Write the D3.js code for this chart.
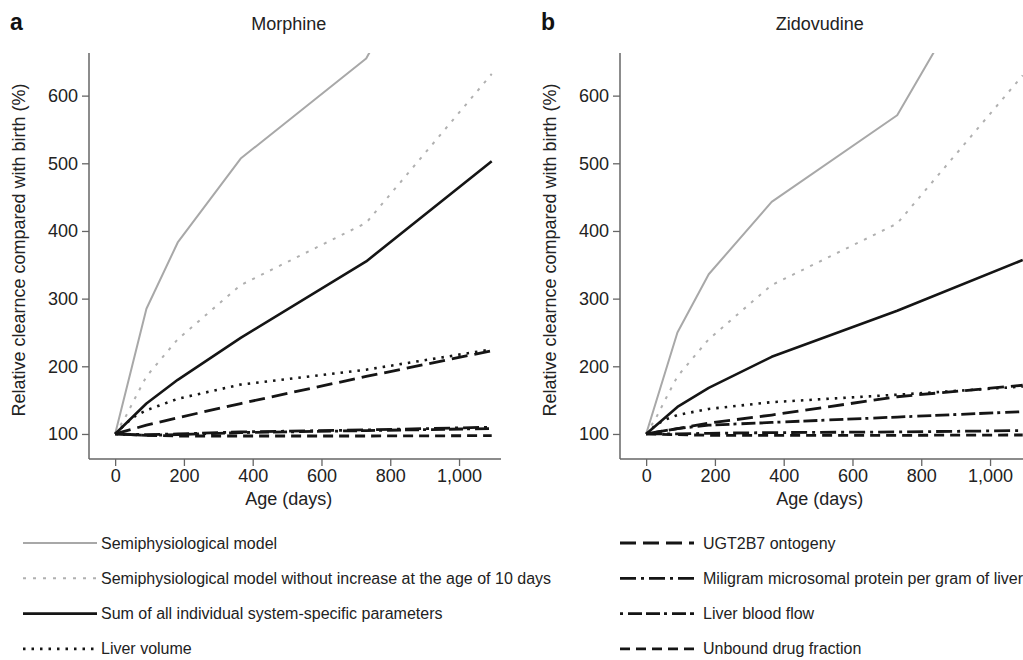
<!DOCTYPE html>
<html>
<head>
<meta charset="utf-8">
<script src="https://cdn.jsdelivr.net/npm/d3@7"></script>
<style>
body { margin: 0; background: #fff; }
svg { font-family: "Liberation Sans", Arial, Helvetica, sans-serif; }
</style>
</head>
<body>
<script>
// ages (days) at which the curves were read
const agesCoarse = [0, 91, 182, 365, 730, 1095];
const agesFine = [0, 30, 60, 91, 182, 365, 730, 1095];

const xTicks = [0, 200, 400, 600, 800, 1000];
const yTicks = [100, 200, 300, 400, 500, 600];

// Morphine
const morSemi = [100, 285, 383, 507, 655, 985];
const morSemiNo10 = [100, 125, 155, 185, 240, 320, 412, 632];
const morSum = [100, 145, 180, 242, 355, 503];
const morLiverVol = [100, 115, 127, 135, 152, 173, 195, 225];
const morUgt = [100, 113, 124, 145, 185, 223];
const morMppgl = [100, 99, 100, 103, 106, 110];
const morLbf = [100, 98, 99, 102, 105, 108];
const morFu = [100, 98, 97, 97, 97, 97.5];

// Zidovudine
const zidSemi = [100, 250, 336, 443, 571, 890];
const zidSemiNo10 = [100, 125, 155, 185, 240, 320, 411, 630];
const zidSum = [100, 140, 168, 214, 282, 357];
const zidLiverVol = [100, 114, 122, 128, 137, 147, 158, 170];
const zidUgt = [100, 108, 116, 128, 155, 172];
const zidMppgl = [100, 100, 101, 102, 103, 105];
const zidLbf = [100, 108, 113, 117, 125, 133];
const zidFu = [100, 99, 98, 98, 98, 98.5];

const legendLeft = ["Semiphysiological model",
  "Semiphysiological model without increase at the age of 10 days",
  "Sum of all individual system-specific parameters",
  "Liver volume"];
const legendRight = ["UGT2B7 ontogeny",
  "Miligram microsomal protein per gram of liver",
  "Liver blood flow",
  "Unbound drug fraction"];

const styles = {
  semi:     { color: "#a8a8a8", width: 2,   dash: null },
  semiNo10: { color: "#b0b0b0", width: 2,   dash: "3,7" },
  sum:      { color: "#151515", width: 2.6, dash: null },
  liverVol: { color: "#151515", width: 2.6, dash: "2.5,6" },
  ugt:      { color: "#151515", width: 2.8, dash: "16,7" },
  mppgl:    { color: "#151515", width: 2.8, dash: "16,5,3,5" },
  lbf:      { color: "#151515", width: 2.8, dash: "3,5,14,4,14,4" },
  fu:       { color: "#151515", width: 2.8, dash: "10,6" }
};

const panels = [
  { letter: "a", title: "Morphine", left: 89, series: [
    ["semi", agesCoarse, morSemi], ["semiNo10", agesFine, morSemiNo10],
    ["fu", agesCoarse, morFu], ["lbf", agesCoarse, morLbf], ["mppgl", agesCoarse, morMppgl],
    ["ugt", agesCoarse, morUgt], ["liverVol", agesFine, morLiverVol], ["sum", agesCoarse, morSum]] },
  { letter: "b", title: "Zidovudine", left: 620, series: [
    ["semi", agesCoarse, zidSemi], ["semiNo10", agesFine, zidSemiNo10],
    ["fu", agesCoarse, zidFu], ["lbf", agesCoarse, zidLbf], ["mppgl", agesCoarse, zidMppgl],
    ["ugt", agesCoarse, zidUgt], ["liverVol", agesFine, zidLiverVol], ["sum", agesCoarse, zidSum]] }
];

const width = 1023, height = 660;
const svg = d3.select("body").append("svg")
  .attr("width", width)
  .attr("height", height);

const plotTop = 53, plotBottom = 459, plotW = 412;

panels.forEach((p, i) => {
  const x = d3.scaleLinear().domain([-76, 1122]).range([p.left, p.left + plotW]);
  const y = d3.scaleLinear().domain([63, 663]).range([plotBottom, plotTop]);

  const clipId = "clip" + i;
  svg.append("clipPath").attr("id", clipId)
    .append("rect")
    .attr("x", p.left).attr("y", plotTop)
    .attr("width", plotW).attr("height", plotBottom - plotTop);

  // panel letter and title
  svg.append("text").attr("x", p.left - 79).attr("y", 30)
    .attr("font-size", 23).attr("font-weight", "bold").attr("fill", "#111")
    .text(p.letter);
  svg.append("text").attr("x", x(505)).attr("y", 30)
    .attr("text-anchor", "middle").attr("font-size", 18).attr("fill", "#222")
    .text(p.title);

  // axes
  const yAxis = svg.append("g").attr("transform", `translate(${p.left},0)`)
    .call(d3.axisLeft(y).tickValues(yTicks).tickSize(7).tickPadding(4).tickFormat(d3.format("d")));
  const xAxis = svg.append("g").attr("transform", `translate(0,${plotBottom})`)
    .call(d3.axisBottom(x).tickValues(xTicks).tickSize(7).tickPadding(3).tickFormat(d3.format(",")));
  [xAxis, yAxis].forEach(g => {
    g.select(".domain").attr("stroke", "#666").attr("stroke-width", 1.5);
    g.selectAll(".tick line").attr("stroke", "#666").attr("stroke-width", 1.3);
    g.selectAll(".tick text").attr("font-size", 18).attr("fill", "#222")
      .attr("font-family", "Liberation Sans, Arial, sans-serif");
  });
  yAxis.select(".domain").attr("d", `M0,${plotTop}V${plotBottom}`);
  xAxis.select(".domain").attr("d", `M${p.left},0H${p.left + plotW}`);

  svg.append("text").attr("x", x(505)).attr("y", 505)
    .attr("text-anchor", "middle").attr("font-size", 18).attr("fill", "#222")
    .text("Age (days)");
  svg.append("text")
    .attr("transform", `translate(${p.left - 64},${250}) rotate(-90)`)
    .attr("text-anchor", "middle").attr("font-size", 18).attr("fill", "#222")
    .text("Relative clearnce compared with birth (%)");

  const line = d3.line().x(d => x(d[0])).y(d => y(d[1]));
  const g = svg.append("g").attr("clip-path", `url(#${clipId})`);
  p.series.forEach(([key, ages, vals]) => {
    const s = styles[key];
    g.append("path")
      .datum(ages.map((a, k) => [a, vals[k]]))
      .attr("d", line)
      .attr("fill", "none")
      .attr("stroke", s.color)
      .attr("stroke-width", s.width)
      .attr("stroke-dasharray", s.dash)
      .attr("stroke-linejoin", "round");
  });
});

// legend
const legendKeys = [["semi", "semiNo10", "sum", "liverVol"], ["ugt", "mppgl", "lbf", "fu"]];
const legendText = [legendLeft, legendRight];
const legendX = [23, 620];
legendKeys.forEach((keys, c) => {
  keys.forEach((k, r) => {
    const s = styles[k];
    const yy = 543 + r * 35.3;
    svg.append("line")
      .attr("x1", legendX[c]).attr("x2", legendX[c] + 74)
      .attr("y1", yy).attr("y2", yy)
      .attr("stroke", s.color).attr("stroke-width", s.width)
      .attr("stroke-dasharray", s.dash);
    svg.append("text").attr("x", legendX[c] + (c === 0 ? 78 : 83)).attr("y", yy + 5.5)
      .attr("font-size", 16).attr("fill", "#222")
      .text(legendText[c][r]);
  });
});
</script>
</body>
</html>
